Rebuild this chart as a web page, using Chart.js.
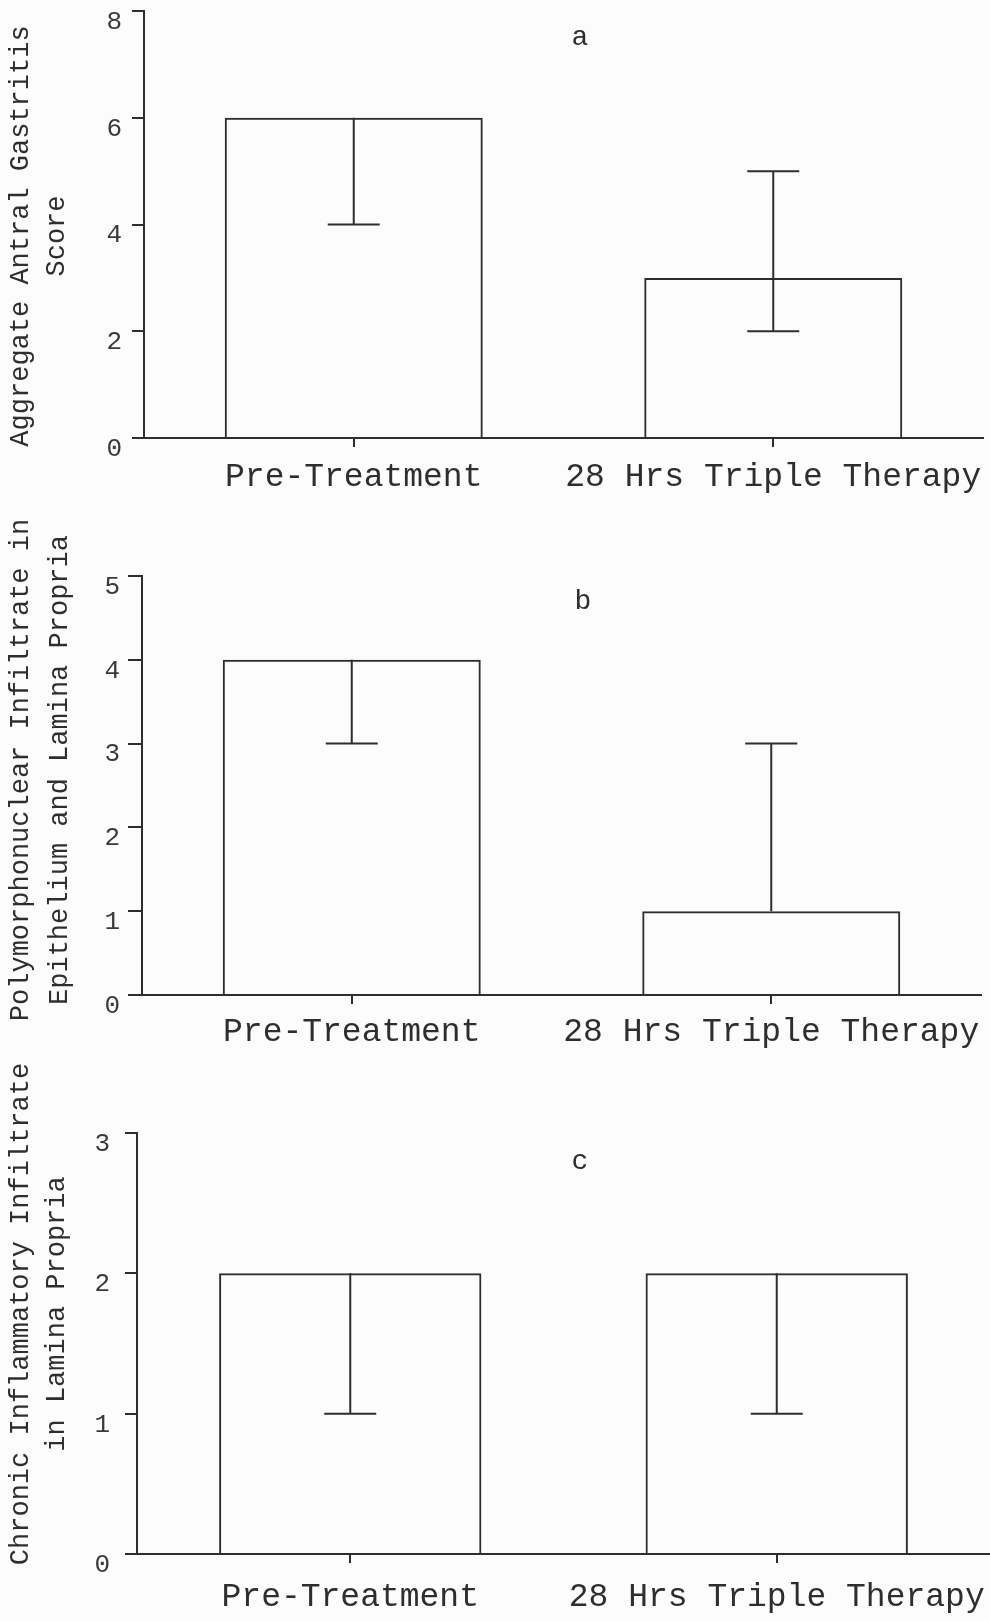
<!DOCTYPE html>
<html>
<head>
<meta charset="utf-8">
<script src="https://cdn.jsdelivr.net/npm/chart.js@4.4.1/dist/chart.umd.min.js"></script>
<style>
  body { margin: 0; background: #fcfcfc; width: 990px; height: 1621px; position: relative; overflow: hidden; }
  canvas { position: absolute; left: 0; }
</style>
</head>
<body>
<canvas id="chartA" width="990" height="510" style="top:0px"></canvas>
<canvas id="chartB" width="990" height="560" style="top:500px"></canvas>
<canvas id="chartC" width="990" height="581" style="top:1040px"></canvas>
<script>
// categories shared by all three panels
const categories = ['Pre-Treatment', '28 Hrs Triple Therapy'];

// panel a - aggregate antral gastritis score
const gastritisScore = [6, 3];
const gastritisLow = [4, 2];
const gastritisHigh = [6, 5];

// panel b - polymorphonuclear infiltrate
const polymorphScore = [4, 1];
const polymorphLow = [3, 1];
const polymorphHigh = [4, 3];

// panel c - chronic inflammatory infiltrate
const chronicScore = [2, 2];
const chronicLow = [1, 1];
const chronicHigh = [2, 2];

const ink = '#2e2e2e';
const mono = "'Liberation Mono', 'Courier New', monospace";

// draws the range bars on top of each bar, caps only where the range leaves the bar top
const errorBarPlugin = {
    id: 'errorBars',
    afterDatasetsDraw(chart) {
        const { ctx } = chart;
        const yScale = chart.scales.y;
        const ds = chart.data.datasets[0];
        const meta = chart.getDatasetMeta(0);
        ctx.save();
        ctx.strokeStyle = ink;
        ctx.lineWidth = 2;
        meta.data.forEach((bar, i) => {
            const x = bar.x;
            const yLo = yScale.getPixelForValue(ds.errLow[i]);
            const yHi = yScale.getPixelForValue(ds.errHigh[i]);
            ctx.beginPath();
            ctx.moveTo(x, yLo);
            ctx.lineTo(x, yHi);
            if (ds.errLow[i] < ds.data[i]) {
                ctx.moveTo(x - 26, yLo);
                ctx.lineTo(x + 26, yLo);
            }
            if (ds.errHigh[i] > ds.data[i]) {
                ctx.moveTo(x - 26, yHi);
                ctx.lineTo(x + 26, yHi);
            }
            ctx.stroke();
        });
        ctx.restore();
    }
};

// rotated side title (two lines) plus the panel letter
const panelTextPlugin = {
    id: 'panelText',
    afterDraw(chart, args, opts) {
        const { ctx } = chart;
        ctx.save();
        ctx.fillStyle = ink;
        ctx.textAlign = 'center';
        ctx.textBaseline = 'middle';
        ctx.font = `27px ${mono}`;
        opts.lines.forEach((line, i) => {
            ctx.save();
            ctx.translate(opts.lineX[i], opts.lineY);
            ctx.rotate(-Math.PI / 2);
            ctx.fillText(line, 0, 0);
            ctx.restore();
        });
        ctx.font = `28px ${mono}`;
        ctx.fillText(opts.letter, opts.letterX, opts.letterY);
        ctx.restore();
    }
};

function makePanel(id, values, low, high, yMax, geom, text) {
    return new Chart(document.getElementById(id), {
        type: 'bar',
        data: {
            labels: categories,
            datasets: [{
                data: values,
                errLow: low,
                errHigh: high,
                backgroundColor: 'rgba(0,0,0,0)',
                borderColor: ink,
                borderWidth: 2,
                borderSkipped: 'start',
                barPercentage: 0.615,
                categoryPercentage: 1
            }]
        },
        options: {
            responsive: false,
            animation: false,
            layout: { padding: { left: 0, right: geom.padRight, top: geom.padTop, bottom: 0 } },
            plugins: {
                legend: { display: false },
                tooltip: { enabled: false },
                panelText: text
            },
            scales: {
                x: {
                    grid: { drawOnChartArea: false, offset: false, color: ink, lineWidth: 2, tickLength: 9 },
                    border: { color: ink, width: 2 },
                    ticks: {
                        color: ink, font: { family: mono, size: 33 }, padding: geom.xPad,
                        maxRotation: 0, minRotation: 0, autoSkip: false
                    },
                    afterFit: s => { s.height = geom.xHeight; s.paddingLeft = 0; s.paddingRight = 0; }
                },
                y: {
                    min: 0,
                    max: yMax,
                    grid: { drawOnChartArea: false, color: ink, lineWidth: 2, tickLength: geom.tick },
                    border: { color: ink, width: 2 },
                    ticks: { stepSize: yMax > 5 ? 2 : 1, color: '#3a3a3a', font: { family: mono, size: 26 }, padding: geom.yPad, labelOffset: 11 },
                    afterFit: s => { s.width = geom.yWidth; s.paddingTop = 0; s.paddingBottom = 0; }
                }
            }
        },
        plugins: [errorBarPlugin, panelTextPlugin]
    });
}

makePanel('chartA', gastritisScore, gastritisLow, gastritisHigh, 8,
    { padTop: 11, padRight: 7, yWidth: 144, xHeight: 72, tick: 12, yPad: 10, xPad: 10 },
    { lines: ['Aggregate Antral Gastritis', 'Score'], lineX: [21, 57], lineY: 236, letter: 'a', letterX: 580, letterY: 38 });

makePanel('chartB', polymorphScore, polymorphLow, polymorphHigh, 5,
    { padTop: 76, padRight: 9, yWidth: 142, xHeight: 65, tick: 14, yPad: 8, xPad: 8 },
    { lines: ['Polymorphonuclear Infiltrate in', 'Epithelium and Lamina Propria'], lineX: [21, 60], lineY: 270, letter: 'b', letterX: 583, letterY: 102 });

makePanel('chartC', chronicScore, chronicLow, chronicHigh, 3,
    { padTop: 93, padRight: 0, yWidth: 137, xHeight: 67, tick: 12, yPad: 15, xPad: 14 },
    { lines: ['Chronic Inflammatory Infiltrate', 'in Lamina Propria'], lineX: [21, 57], lineY: 274, letter: 'c', letterX: 580, letterY: 122 });
</script>
</body>
</html>
